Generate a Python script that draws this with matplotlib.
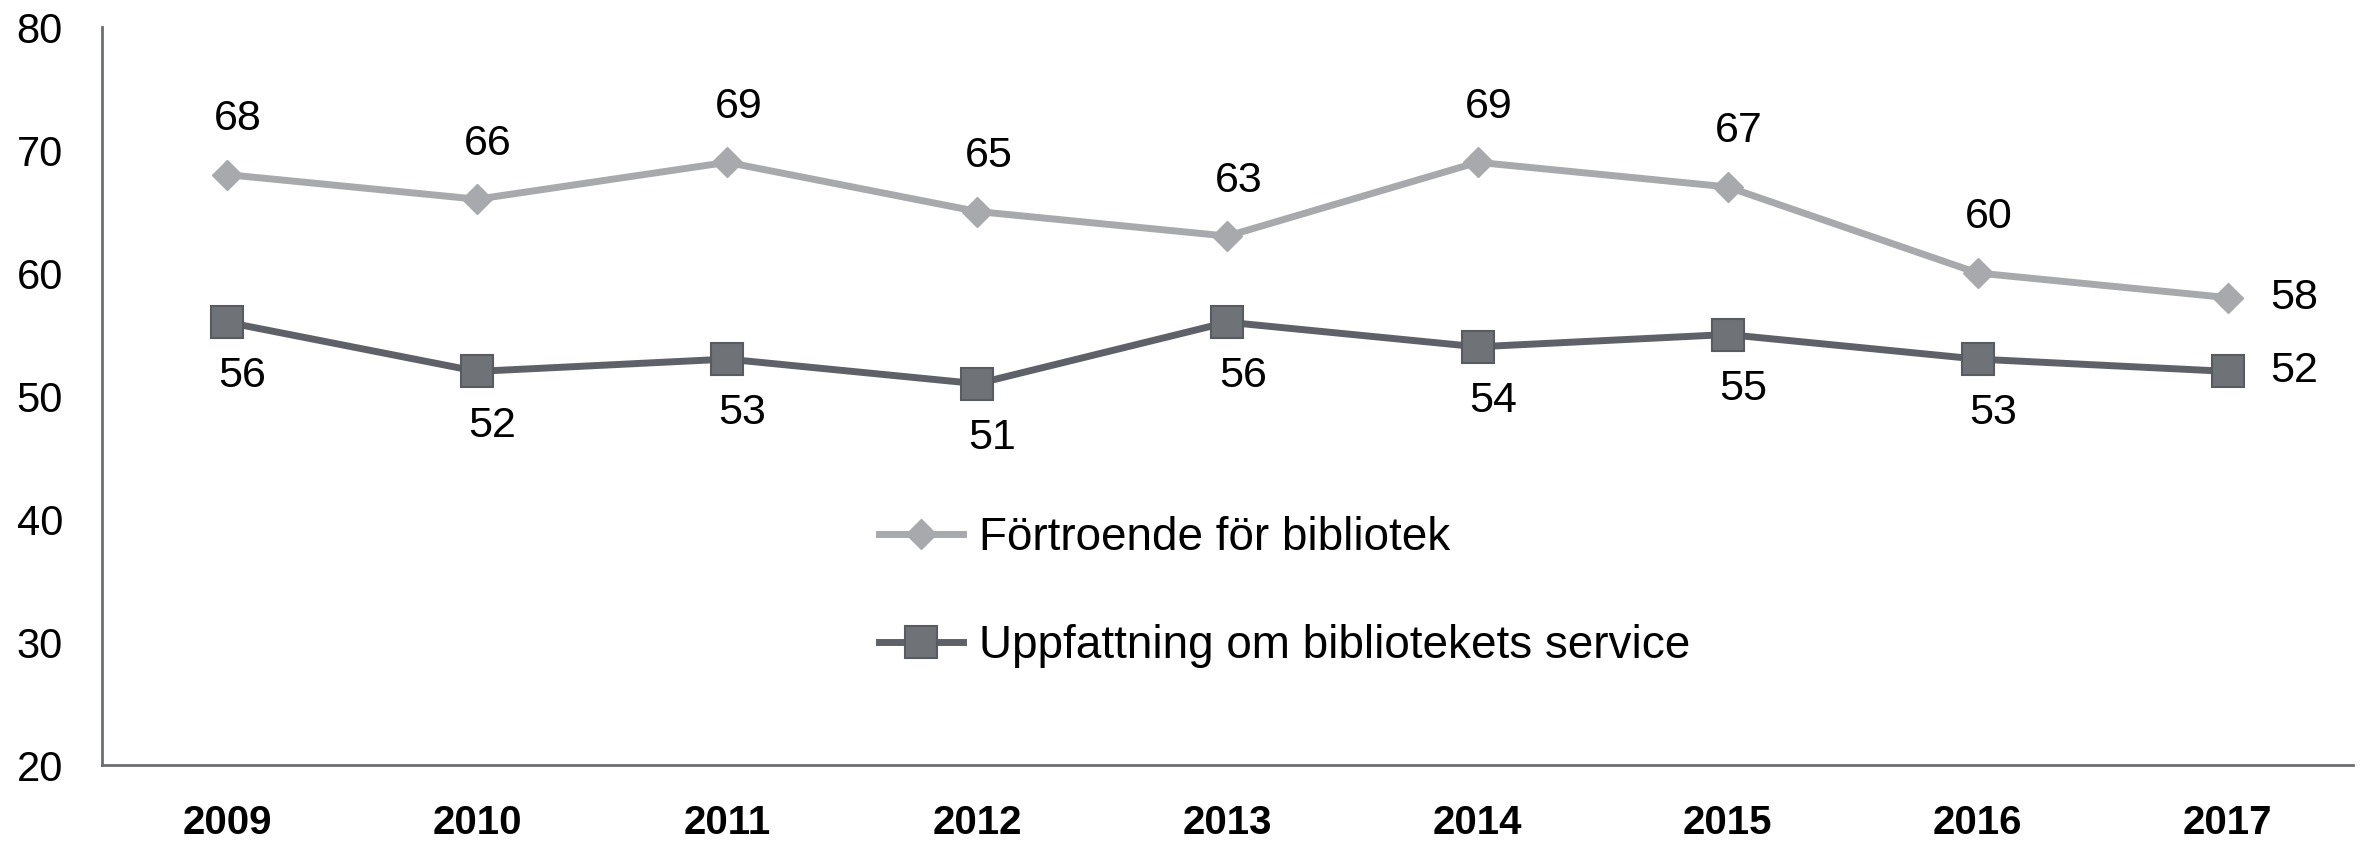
import matplotlib
matplotlib.use("Agg")
import matplotlib.pyplot as plt

plt.rcParams['font.family'] = ['Liberation Sans', 'DejaVu Sans']

years = ['2009', '2010', '2011', '2012', '2013', '2014', '2015', '2016', '2017']
fortroende = [68, 66, 69, 65, 63, 69, 67, 60, 58]
service = [56, 52, 53, 51, 56, 54, 55, 53, 52]
series_names = ['Förtroende för bibliotek', 'Uppfattning om bibliotekets service']

light = '#A7A9AC'
dark = '#5E6268'

fig = plt.figure(figsize=(23.64, 8.44), dpi=100)
ax = fig.add_axes([0.0431, 0.0936, 0.9522, 0.8744])

x = list(range(len(years)))
ax.plot(x, fortroende, color=light, lw=5, marker='D', ms=15,
        mfc=light, mec=light, label=series_names[0], zorder=3)
ax.plot(x, service, color=dark, lw=5, marker='s', ms=23,
        mfc='#6F7277', mec='#585C61', mew=1.5, label=series_names[1], zorder=3)

# labels: light series above, dark series below, last point to the right
last = len(years) - 1
for i, v in enumerate(fortroende):
    off = (48, 0) if i == last else (8, 40)
    ax.annotate(str(v), (i, v), xytext=off, textcoords='offset points',
                ha='center', va='center', fontsize=31)
for i, v in enumerate(service):
    off = (48, 0) if i == last else (11, -39)
    ax.annotate(str(v), (i, v), xytext=off, textcoords='offset points',
                ha='center', va='center', fontsize=31)

ax.set_xlim(-0.5, len(years) - 0.5)
ax.set_ylim(20, 80)
ax.set_yticks([20, 30, 40, 50, 60, 70, 80])
ax.set_xticks(x)
ax.set_xticklabels(years)

for s in ['top', 'right']:
    ax.spines[s].set_visible(False)
for s in ['left', 'bottom']:
    ax.spines[s].set_color('#6B6E72')
    ax.spines[s].set_linewidth(2)

ax.tick_params(axis='both', length=0)
ax.tick_params(axis='y', pad=28, labelsize=30)
ax.tick_params(axis='x', pad=28, labelsize=29)
for lbl in ax.get_xticklabels():
    lbl.set_fontweight('bold')

fig.legend(loc='upper left', bbox_to_anchor=(0.372, 0.389), frameon=False,
           fontsize=33, borderpad=0, borderaxespad=0, handlelength=1.82,
           handletextpad=0.36, labelspacing=1.4)

fig.savefig('out.png', dpi=100, facecolor='white')
